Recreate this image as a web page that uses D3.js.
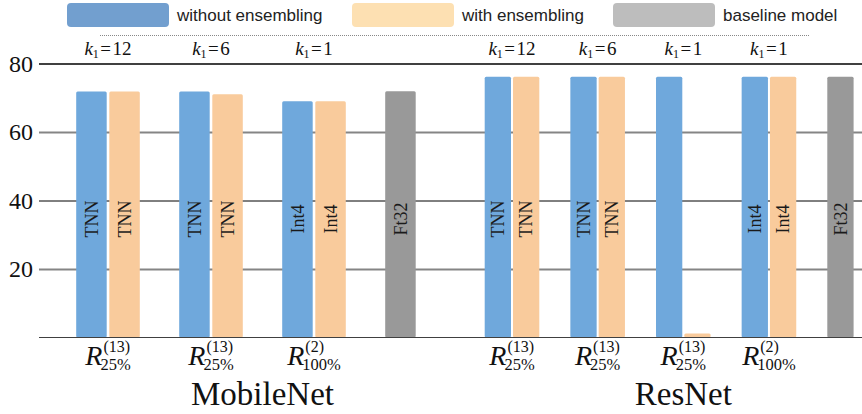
<!DOCTYPE html>
<html>
<head>
<meta charset="utf-8">
<script src="https://cdn.jsdelivr.net/npm/d3@7"></script>
<style>
  html, body { margin: 0; padding: 0; background: #fff; }
  svg { display: block; }
</style>
</head>
<body>
<svg id="chart" width="862" height="414"></svg>
<script>
// ---- data ----
const seriesNames = ["without ensembling", "with ensembling", "baseline model"];

const mobileK = ["12", "6", "1"];
const mobileSup = ["(13)", "(13)", "(2)"];
const mobileSub = ["25%", "25%", "100%"];
const mobileBars = ["TNN", "TNN", "Int4"];
const mobileWithout = [71.8, 71.8, 69.0];
const mobileWith = [71.8, 71.0, 69.0];
const mobileBaseline = 71.9;
const mobileBaselineLabel = "Ft32";

const resK = ["12", "6", "1", "1"];
const resSup = ["(13)", "(13)", "(13)", "(2)"];
const resSub = ["25%", "25%", "25%", "100%"];
const resBars = ["TNN", "TNN", "", "Int4"];
const resWithout = [76.1, 76.1, 76.1, 76.1];
const resWith = [76.1, 76.1, 1.2, 76.1];
const resBaseline = 76.1;
const resBaselineLabel = "Ft32";

const yTicks = [20, 40, 60, 80];

// ---- style ----
const barColors = ["#6fa8dc", "#f9cb9c", "#999999"];
const legendColors = ["#729fcf", "#fde0b2", "#bdbdbd"];
const serif = "'Liberation Serif', 'DejaVu Serif', serif";
const sans = "'Liberation Sans', Arial, sans-serif";

const svg = d3.select("#chart");
const y = d3.scaleLinear().domain([0, 80]).range([337.5, 63.5]);

// ---- y axis with gridlines ----
const axis = svg.append("g")
  .attr("transform", "translate(39,0)")
  .call(d3.axisLeft(y).tickValues(yTicks).tickSize(-823).tickPadding(6).tickFormat(d3.format("d")));
axis.select(".domain").remove();
axis.selectAll(".tick line")
  .attr("stroke", d => (d === 60 || d === 20) ? "#858585" : "#000")
  .attr("stroke-width", d => (d === 60 || d === 20) ? 2.2 : (d === 80 ? 1.5 : 1));
axis.selectAll(".tick text")
  .attr("fill", "#111")
  .style("font-family", serif)
  .style("font-size", "24px");

// ---- panels ----
const panels = [
  { name: "MobileNet", k: mobileK, sup: mobileSup, sub: mobileSub, labels: mobileBars,
    without: mobileWithout, withE: mobileWith, base: mobileBaseline, baseLabel: mobileBaselineLabel,
    range: [108, 417], barW: 30.5, gap: 2.6 },
  { name: "ResNet", k: resK, sup: resSup, sub: resSub, labels: resBars,
    without: resWithout, withE: resWith, base: resBaseline, baseLabel: resBaselineLabel,
    range: [512, 854.6], barW: 26.3, gap: 2 }
];

panels.forEach(p => {
  const n = p.k.length;
  const groups = d3.range(n + 1);
  const x = d3.scalePoint().domain(groups).range(p.range);
  const g = svg.append("g");

  const bars = [];
  for (let i = 0; i < n; i++) {
    bars.push({ gi: i, s: 0, v: p.without[i], label: p.labels[i] });
    bars.push({ gi: i, s: 1, v: p.withE[i], label: p.labels[i] && p.withE[i] > 20 ? p.labels[i] : "" });
  }
  bars.push({ gi: n, s: 2, v: p.base, label: p.baseLabel });

  const bx = d => d.s === 1 ? x(d.gi) + p.gap / 2 : x(d.gi) - p.gap / 2 - p.barW;

  g.selectAll("rect.bar").data(bars).join("rect")
    .attr("class", "bar")
    .attr("x", bx)
    .attr("y", d => y(d.v))
    .attr("width", p.barW)
    .attr("height", d => y(0) - y(d.v))
    .attr("rx", 1.5)
    .attr("fill", d => barColors[d.s]);

  g.selectAll("text.inner").data(bars.filter(d => d.label)).join("text")
    .attr("class", "inner")
    .attr("transform", d => `translate(${bx(d) + p.barW / 2},219) rotate(-90)`)
    .attr("text-anchor", "middle")
    .attr("dy", "0.35em")
    .attr("fill", "#1a1a1a")
    .style("font-family", serif)
    .style("font-size", "18px")
    .text(d => d.label);

  // k1 labels above the plot
  p.k.forEach((kv, i) => {
    const t = g.append("text")
      .attr("x", x(i)).attr("y", 55)
      .attr("text-anchor", "middle")
      .attr("fill", "#111")
      .style("font-family", serif)
      .style("font-size", "19px");
    t.append("tspan").style("font-style", "italic").text("k");
    t.append("tspan").attr("dy", 3).style("font-size", "12px").text("1");
    t.append("tspan").attr("dy", -3).attr("dx", 1.5).text("=");
    t.append("tspan").attr("dx", 1.5).text(kv);
  });

  // R labels below the plot
  p.sup.forEach((sv, i) => {
    const lg = g.append("g").attr("fill", "#111").style("font-family", serif);
    const r = lg.append("text").attr("y", 365).style("font-size", "28px").style("font-style", "italic").text("R");
    const sp = lg.append("text").attr("y", 352).style("font-size", "16px").text(sv);
    const sb = lg.append("text").attr("y", 370).style("font-size", "16.5px").text(p.sub[i]);
    const wR = r.node().getComputedTextLength();
    const wS = sp.node().getComputedTextLength();
    const wB = sb.node().getComputedTextLength();
    const total = wR + Math.max(wS + 1, wB - 2);
    const x0 = x(i) - total / 2;
    r.attr("x", x0);
    sp.attr("x", x0 + wR + 1);
    sb.attr("x", x0 + wR - 2);
  });

  // panel title
  g.append("text")
    .attr("x", (p.range[0] + p.range[1]) / 2)
    .attr("y", 405)
    .attr("text-anchor", "middle")
    .attr("fill", "#111")
    .style("font-family", serif)
    .style("font-size", "33px")
    .text(p.name);
});

// baseline at zero
svg.append("line")
  .attr("x1", 39).attr("x2", 862)
  .attr("y1", y(0)).attr("y2", y(0))
  .attr("stroke", "#404040").attr("stroke-width", 1.2);

// ---- legend ----
const legendX = [67, 352, 613];
const legend = svg.append("g");
seriesNames.forEach((name, i) => {
  legend.append("rect")
    .attr("x", legendX[i]).attr("y", 3)
    .attr("width", 102).attr("height", 24)
    .attr("rx", 4)
    .attr("fill", legendColors[i]);
  legend.append("text")
    .attr("x", legendX[i] + 110).attr("y", 15)
    .attr("dy", "0.35em")
    .attr("fill", "#222")
    .style("font-family", sans)
    .style("font-size", "17px")
    .text(name);
});
legend.append("line")
  .attr("x1", 100).attr("x2", 809)
  .attr("y1", 35.5).attr("y2", 35.5)
  .attr("stroke", "#888")
  .attr("stroke-width", 1)
  .attr("stroke-dasharray", "1,1");
</script>
</body>
</html>
